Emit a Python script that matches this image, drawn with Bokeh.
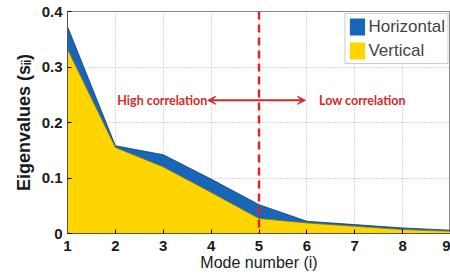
from bokeh.plotting import figure
from bokeh.models import Range1d, Label, Arrow, VeeHead, Span, Legend, LegendItem, FixedTicker, ColumnDataSource
from bokeh.embed import file_html
from bokeh.resources import INLINE

modes = [1, 2, 3, 4, 5, 6, 7, 8, 9]
horizontal = [0.373, 0.158, 0.142, 0.098, 0.052, 0.022, 0.016, 0.010, 0.006]
vertical = [0.332, 0.155, 0.120, 0.074, 0.027, 0.019, 0.013, 0.007, 0.004]
x_ticks = [1, 2, 3, 4, 5, 6, 7, 8, 9]
y_ticks = [0, 0.1, 0.2, 0.3, 0.4]
y_tick_labels = {0: "0", 0.1: "0.1", 0.2: "0.2", 0.3: "0.3", 0.4: "0.4"}

src = ColumnDataSource(dict(x=modes, h=horizontal, v=vertical, z=[0] * len(modes)))

p = figure(width=450, height=275, output_backend="svg", toolbar_location=None,
           x_range=Range1d(1, 9), y_range=Range1d(0, 0.4),
           min_border_left=67, min_border_right=0, min_border_top=11, min_border_bottom=42)

blue = "#1766b8"
yellow = "#ffd500"

r_h = p.varea(x="x", y1="z", y2="h", source=src, fill_color=blue)
p.line(x="x", y="h", source=src, line_color="#0d3f73", line_width=0.8)
r_v = p.varea(x="x", y1="z", y2="v", source=src, fill_color=yellow)
p.line(x="x", y="v", source=src, line_color="#8a7a20", line_width=0.8)

p.add_layout(Span(location=5, dimension="height", line_color="#e02424",
                  line_width=2.5, line_dash="8 5"))

red = "#d42a2a"
p.add_layout(Arrow(x_start=5, y_start=0.24, x_end=3.93, y_end=0.24, line_color=red, line_width=2,
                   end=VeeHead(size=8, fill_color=red, line_color=red)))
p.add_layout(Arrow(x_start=5, y_start=0.24, x_end=5.97, y_end=0.24, line_color=red, line_width=2,
                   end=VeeHead(size=8, fill_color=red, line_color=red)))
p.add_layout(Label(x=2.98, y=0.24, text="High correlation", text_align="center", text_baseline="middle",
                   text_color=red, text_font="Lato", text_font_size="12.5px", text_font_style="bold"))
p.add_layout(Label(x=7.16, y=0.24, text="Low correlation", text_align="center", text_baseline="middle",
                   text_color=red, text_font="Lato", text_font_size="12.5px", text_font_style="bold"))

p.xaxis.ticker = FixedTicker(ticks=x_ticks)
p.yaxis.ticker = FixedTicker(ticks=y_ticks)
p.yaxis.major_label_overrides = y_tick_labels
p.xaxis.axis_label = "Mode number (i)"
p.yaxis.axis_label = "Eigenvalues (sᵢᵢ)"
for ax in (p.xaxis, p.yaxis):
    ax.major_label_text_font = "Liberation Sans"
    ax.major_label_text_font_size = "15px"
    ax.major_label_text_font_style = "bold"
    ax.major_label_text_color = "#1a1a1a"
    ax.axis_label_text_font = "Liberation Sans"
    ax.axis_label_text_color = "#1a1a1a"
    ax.minor_tick_line_color = None
    ax.major_tick_in = 4
    ax.major_tick_out = 0
    ax.axis_line_color = "#555555"
p.xaxis.axis_label_text_font_size = "16px"
p.yaxis.axis_label_text_font_size = "18px"
p.xaxis.axis_label_text_font_style = "normal"
p.yaxis.axis_label_text_font_style = "bold"
p.xaxis.axis_label_standoff = 0
p.yaxis.axis_label_standoff = 5
p.xaxis.major_label_standoff = 7
p.yaxis.major_label_standoff = 5

p.grid.grid_line_color = "#b0b0b0"
p.grid.grid_line_dash = "1 2"
p.grid.grid_line_width = 1
p.outline_line_color = "#888888"

legend = Legend(items=[LegendItem(label="Horizontal", renderers=[r_h]),
                       LegendItem(label="Vertical", renderers=[r_v])],
                location="top_right", label_text_font="Liberation Sans", label_text_font_size="17px",
                glyph_width=19, glyph_height=21, spacing=3, padding=2, margin=2,
                label_standoff=2, border_line_color="#999999", background_fill_alpha=1,
                label_height=21)
p.add_layout(legend)

open("out.html", "w").write(file_html(p, INLINE))
